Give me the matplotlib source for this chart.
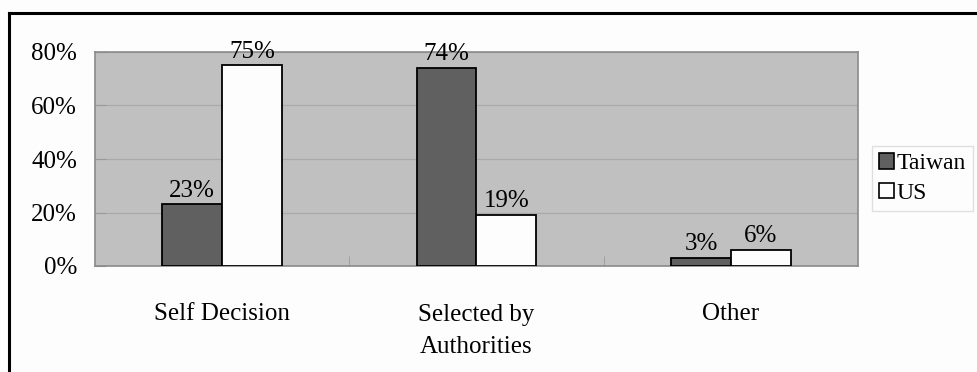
import matplotlib
matplotlib.use("Agg")
import matplotlib.pyplot as plt
import numpy as np
from matplotlib.patches import Patch
from matplotlib.ticker import FixedLocator, PercentFormatter

categories = ["Self Decision", "Selected by\nAuthorities", "Other"]
series_names = ["Taiwan", "US"]
taiwan = [23, 74, 3]
us = [75, 19, 6]
y_ticks = [0, 20, 40, 60, 80]

plt.rcParams["font.family"] = ["Liberation Serif", "DejaVu Serif"]
FS = 18

fig = plt.figure(figsize=(9.78, 3.72), dpi=100)
fig.patch.set_facecolor("#fdfdfd")
ax = fig.add_axes([95 / 978, 1 - 266 / 372, (858 - 95) / 978, (266 - 52) / 372])
ax.set_facecolor("#c0c0c0")

x = np.arange(len(categories))
w = 0.235
b1 = ax.bar(x - w / 2, taiwan, w, color="#606060", edgecolor="black", linewidth=1.3, zorder=3)
b2 = ax.bar(x + w / 2, us, w, color="#fdfdfd", edgecolor="black", linewidth=1.3, zorder=3)
ax.bar_label(b1, labels=[f"{v}%" for v in taiwan], padding=2, fontsize=FS)
ax.bar_label(b2, labels=[f"{v}%" for v in us], padding=2, fontsize=FS)

ax.set_xlim(-0.5, len(categories) - 0.5)
ax.set_ylim(0, 80)
ax.yaxis.set_major_locator(FixedLocator(y_ticks))
ax.yaxis.set_major_formatter(PercentFormatter(decimals=0))
ax.grid(axis="y", color="#a9a9a9", linewidth=0.9, zorder=0)
ax.set_axisbelow(True)

ax.set_xticks(x)
ax.set_xticklabels(categories, fontsize=FS, linespacing=1.6)
ax.xaxis.set_minor_locator(FixedLocator([0.5, 1.5]))
ax.tick_params(axis="x", which="major", length=0, pad=27)
ax.tick_params(axis="x", which="minor", length=7, direction="in", color="#9a9a9a")
ax.tick_params(axis="y", length=8, direction="in", color="#9a9a9a", labelsize=FS, pad=13)

for s in ax.spines.values():
    s.set_color("#8a8a8a")
    s.set_linewidth(1.2)

handles = [Patch(facecolor="#606060", edgecolor="black", linewidth=1.2),
           Patch(facecolor="#fdfdfd", edgecolor="black", linewidth=1.2)]
leg = fig.legend(handles, series_names, loc="center left",
                 bbox_to_anchor=(872 / 978, 1 - 178.5 / 372), fontsize=17,
                 handlelength=0.65, handleheight=0.65, handletextpad=0.1,
                 borderpad=0.3, labelspacing=0.35, borderaxespad=0,
                 fancybox=False, frameon=True)
leg.get_frame().set_edgecolor("#d8d8d8")
leg.get_frame().set_facecolor("#fdfdfd")
leg.get_frame().set_linewidth(1.0)

# outer frame: top and left edges
fig.add_artist(plt.Line2D([9 / 978, 1.0], [1 - 13 / 372, 1 - 13 / 372], color="black", linewidth=2.2, transform=fig.transFigure))
fig.add_artist(plt.Line2D([9 / 978, 9 / 978], [0.0, 1 - 13 / 372], color="black", linewidth=2.2, transform=fig.transFigure))

fig.savefig("out.png", dpi=100, facecolor=fig.get_facecolor())
